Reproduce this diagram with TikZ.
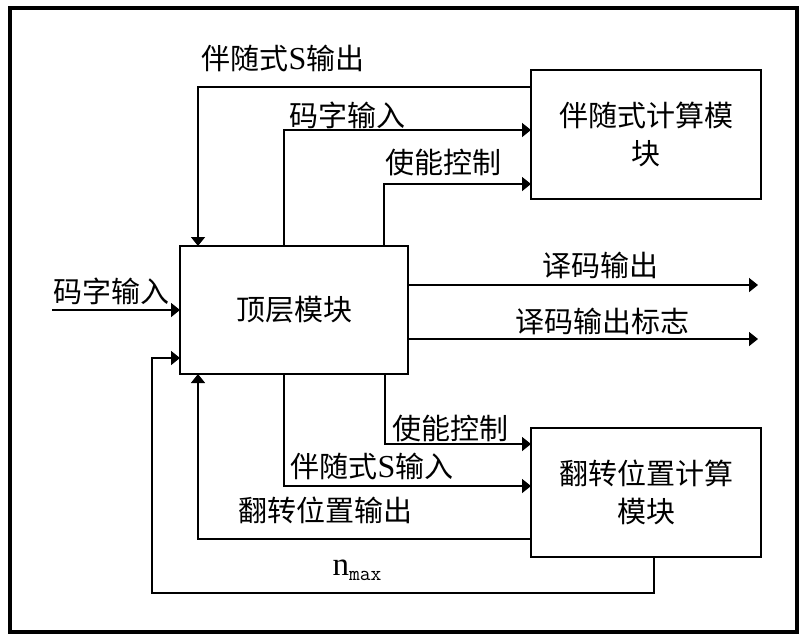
\documentclass[tikz,border=0pt]{standalone}
\usepackage{fontspec}
\setmainfont{Liberation Serif}
\newfontfamily\cjk{Noto Sans CJK SC}
\usetikzlibrary{arrows.meta}
\begin{document}
\begin{tikzpicture}[x=1pt,y=-1pt,
  box/.style={draw,line width=1.6pt,inner sep=0pt,outer sep=0pt,align=center,font=\cjk\fontsize{29}{38}\selectfont},
  lbl/.style={inner sep=0pt,font=\cjk\fontsize{29}{32}\selectfont},
  wire/.style={line width=1.6pt},
  arr/.style={line width=1.6pt,-{Triangle[length=9pt,width=14pt]}}]
\useasboundingbox (0,0) rectangle (802,635);
\node[draw,line width=3.5pt,minimum width=787,minimum height=624,inner sep=0pt] (frame) at (403.5,320) {};
\node[box,minimum width=228,minimum height=128] (top) at (294,310) {顶层模块};
\node[box,minimum width=230,minimum height=129] (synd) at (646,134.5) {伴随式计算模\\块};
\node[box,minimum width=230,minimum height=129] (flip) at (646,492.5) {翻转位置计算\\模块};
% connectors
\draw[arr] (synd.west |- 0,87) -| (top.north -| 198,0);
\draw[arr] (top.north -| 284,0) |- (synd.west |- 0,130);
\draw[arr] (top.north -| 384,0) |- (synd.west |- 0,184);
\coordinate (in) at (52,310);
\draw[arr] (in) -- (top.west);
\coordinate (o1) at (758,285);
\coordinate (o2) at (758,339);
\draw[arr] (top.east |- o1) -- (o1);
\draw[arr] (top.east |- o2) -- (o2);
\draw[arr] (top.south -| 385,0) |- (flip.west |- 0,444);
\draw[arr] (top.south -| 284,0) |- (flip.west |- 0,486);
\draw[arr] (flip.west |- 0,539) -| (top.south -| 198,0);
\coordinate (nb) at (152,593);
\draw[arr] (flip.south -| 654,0) |- (nb) |- (top.west |- 0,358);
% labels
\node[lbl] (l1) at (283,58) {伴随式{\rmfamily\fontsize{32}{32}\selectfont S}输出};
\node[lbl] (l2) at (347,115) {码字输入};
\node[lbl] (l3) at (443,163) {使能控制};
\node[lbl] (l4) at (111,291) {码字输入};
\node[lbl] (l5) at (600,265) {译码输出};
\node[lbl] (l6) at (602,321) {译码输出标志};
\node[lbl] (l7) at (450,428) {使能控制};
\node[lbl] (l8) at (372,466) {伴随式{\rmfamily\fontsize{32}{32}\selectfont S}输入};
\node[lbl] (l9) at (325,510) {翻转位置输出};
\node[inner sep=0pt,font=\fontsize{33}{34}\selectfont] (l10) at (357,570) {n\raisebox{-5pt}{\ttfamily\fontsize{21}{22}\selectfont max}};
\end{tikzpicture}
\end{document}
